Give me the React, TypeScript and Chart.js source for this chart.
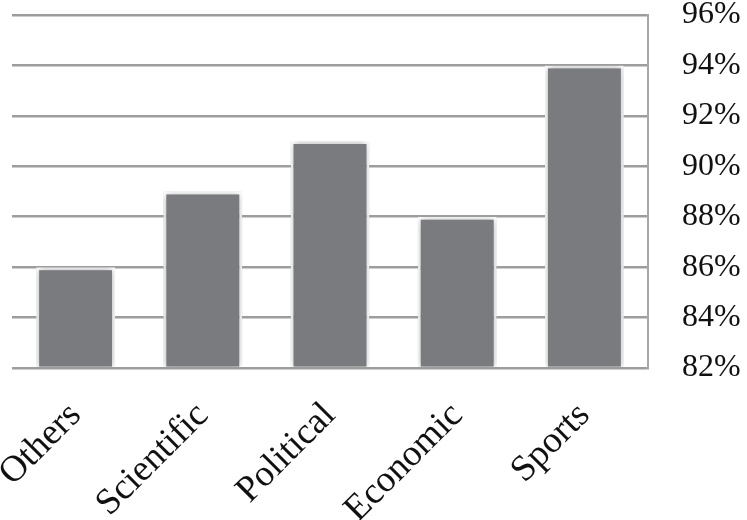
import React, { useEffect, useRef } from "react";
import { Chart, registerables } from "chart.js";

Chart.register(...registerables);

const categories = ["Others", "Scientific", "Political", "Economic", "Sports"];
const values = [86, 89, 91, 88, 94];
const yMin = 82;
const yMax = 96;
const yStep = 2;

const shadowPlugin = {
  id: "barShadow",
  beforeDatasetsDraw(chart: any) {
    const ctx = chart.ctx;
    ctx.save();
    ctx.shadowColor = "rgba(0,0,0,0.35)";
    ctx.shadowBlur = 7;
    ctx.shadowOffsetX = 0;
    ctx.shadowOffsetY = 0;
  },
  afterDatasetsDraw(chart: any) {
    chart.ctx.restore();
  },
};

export default function App() {
  const ref = useRef<HTMLCanvasElement | null>(null);
  useEffect(() => {
    document.body.style.margin = "0";
    if (!ref.current) return;
    const chart = new Chart(ref.current, {
      type: "bar",
      data: {
        labels: categories,
        datasets: [
          {
            data: values,
            backgroundColor: "#7a7b7f",
            borderColor: "#ffffff",
            borderWidth: 3,
            borderSkipped: "start",
            categoryPercentage: 1,
            barPercentage: 0.62,
            base: yMin,
          },
        ],
      },
      plugins: [shadowPlugin],
      options: {
        animation: false,
        responsive: false,
        maintainAspectRatio: false,
        layout: { padding: { top: 15, left: 12, right: 0, bottom: 0 } },
        plugins: { legend: { display: false }, tooltip: { enabled: false } },
        scales: {
          x: {
            grid: { display: false },
            border: { display: false },
            ticks: {
              minRotation: 45,
              maxRotation: 45,
              color: "#111",
              padding: 18,
              font: { family: "'Liberation Serif', serif", size: 37 },
            },
            afterFit(scale: any) {
              scale.height = 152;
              scale.paddingTop = 0;
              scale.paddingLeft = 0;
              scale.paddingRight = 0;
            },
          },
          y: {
            position: "right",
            min: yMin,
            max: yMax,
            ticks: {
              stepSize: yStep,
              padding: 34,
              color: "#111",
              font: { family: "'Liberation Serif', serif", size: 32 },
              callback: (v: any) => v + "%",
            },
            grid: { color: "#9d9d9d", lineWidth: 2.5, drawTicks: false },
            border: { display: true, color: "#a8a8a8", width: 2 },
            afterFit(scale: any) {
              scale.width = 99;
              scale.paddingTop = 0;
              scale.paddingBottom = 0;
            },
          },
        },
      },
    });
    return () => chart.destroy();
  }, []);
  return (
    <div style={{ position: "absolute", left: 0, top: 0, width: 747, height: 520, background: "#fff" }}>
      <canvas ref={ref} width={747} height={520} style={{ width: 747, height: 520 }} />
    </div>
  );
}
